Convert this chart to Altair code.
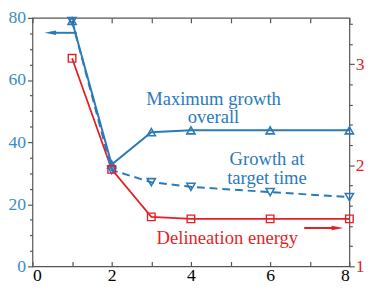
import altair as alt
import pandas as pd

# ---- data ----
x_vals = [1, 2, 3, 4, 6, 8]
max_growth = [79.0, 32.8, 43.2, 43.8, 43.8, 43.8]
target_growth = [79.0, 31.0, 27.1, 25.6, 23.9, 22.3]
delineation = [3.06, 1.96, 1.49, 1.47, 1.47, 1.47]

# tick values (major and minor)
x_ticks = [0, 0.5, 1, 1.5, 2, 2.5, 3, 3.5, 4, 4.5, 5, 5.5, 6, 6.5, 7, 7.5, 8]
yl_ticks = [0, 5, 10, 15, 20, 25, 30, 35, 40, 45, 50, 55, 60, 65, 70, 75, 80]
yr_ticks = [1, 1.2, 1.4, 1.6, 1.8, 2, 2.2, 2.4, 2.6, 2.8, 3, 3.2, 3.4]

blue_text = ["Maximum growth\noverall", "Growth at\ntarget time"]
blue_text_x = [4.57, 5.92]
blue_text_y = [52.1, 32.6]
red_text = ["Delineation energy"]
red_text_x = [4.92]
red_text_y = [1.224]

blue_arrow = {"x": [0.45], "x2": [1.12], "y": [75.2]}
red_arrow = {"x": [6.86], "x2": [7.70], "y": [1.38]}

BLUE = "#2a7ab9"
LBLUE = "#3a8cc6"
RED = "#e41f26"
AX = "#555555"
FONT = "Liberation Serif"
W, H = 324, 254

XDOM = [0, 8]
YL = [0, 80]
YR = [1, 3.46]

df = pd.DataFrame({"x": x_vals, "max": max_growth, "target": target_growth, "del": delineation})
bt = pd.DataFrame({"t": blue_text, "x": blue_text_x, "y": blue_text_y})
rt = pd.DataFrame({"t": red_text, "x": red_text_x, "y": red_text_y})
ba = pd.DataFrame(blue_arrow)
ra = pd.DataFrame(red_arrow)

MAJ, MIN = 5, 3
X_MAJ = "datum.value % 2 == 0"
YL_MAJ = "datum.value % 20 == 0"
YR_MAJ = "abs(datum.value - round(datum.value)) < 0.01"


def xenc(axis, field="x"):
    return alt.X(f"{field}:Q", scale=alt.Scale(domain=XDOM, nice=False, zero=False), axis=axis, title=None)


def yenc(field, dom, axis):
    return alt.Y(f"{field}:Q", scale=alt.Scale(domain=dom, nice=False, zero=False), axis=axis, title=None)


ax_x = alt.Axis(
    orient="bottom", values=x_ticks, format="d", domain=False, labelPadding=0, labelOverlap=False,
    labelColor="black", labelExpr=f"{X_MAJ} ? datum.label : ''",
    ticks=False, tickSize=0, zindex=1,
    grid=True, gridColor=AX, gridWidth=1.2, gridOpacity=1, gridDash=[5, H - 10, 5, 2000],
)
ax_yl = alt.Axis(
    orient="left", values=yl_ticks, format="d", domain=False, labelPadding=2, labelOverlap=False,
    labelColor=LBLUE, labelExpr=f"{YL_MAJ} ? datum.label : ''",
    ticks=True, tickSize={"condition": {"test": YL_MAJ, "value": MAJ}, "value": MIN},
    tickColor=AX, tickWidth=1.2, grid=False,
)
ax_yr = alt.Axis(
    orient="right", values=yr_ticks, format=".0f", domain=False, labelPadding=1, labelOverlap=False,
    labelColor=RED, labelExpr=f"{YR_MAJ} ? datum.label : ''",
    ticks=True, tickSize={"condition": {"test": YR_MAJ, "value": MAJ}, "value": MIN},
    tickColor=AX, tickWidth=1.2, grid=False,
)

l1 = alt.Chart(df).mark_line(color=BLUE, strokeWidth=2).encode(
    x=xenc(ax_x), y=yenc("max", YL, ax_yl))
l2 = alt.Chart(df).mark_point(shape="triangle-up", filled=False, color=BLUE, size=70, strokeWidth=1.6, opacity=1).encode(
    x=xenc(None), y=yenc("max", YL, None))
l3 = alt.Chart(df).mark_line(color=BLUE, strokeWidth=2, strokeDash=[8, 5]).encode(
    x=xenc(None), y=yenc("target", YL, None))
l4 = alt.Chart(df).mark_point(shape="triangle-down", filled=False, color=BLUE, size=70, strokeWidth=1.6, opacity=1).encode(
    x=xenc(None), y=yenc("target", YL, None))
l5 = alt.Chart(df).mark_line(color=RED, strokeWidth=1.8).encode(
    x=xenc(None), y=yenc("del", YR, ax_yr))
l6 = alt.Chart(df).mark_point(shape="square", filled=False, color=RED, size=60, strokeWidth=1.4, opacity=1).encode(
    x=xenc(None), y=yenc("del", YR, None))

l7 = alt.Chart(ra).mark_rule(color=RED, strokeWidth=2).encode(
    x=xenc(None), x2="x2:Q", y=yenc("y", YR, None))
l8 = alt.Chart(ra).mark_point(shape="M-1,-0.38L1,0L-1,0.38Z", filled=True, color=RED, size=144, opacity=1).encode(
    x=xenc(None, "x2"), y=yenc("y", YR, None))
l9 = alt.Chart(ba).mark_rule(color=BLUE, strokeWidth=2).encode(
    x=xenc(None), x2="x2:Q", y=yenc("y", YL, None))
l10 = alt.Chart(ba).mark_point(shape="M1,-0.38L-1,0L1,0.38Z", filled=True, color=BLUE, size=144, opacity=1).encode(
    x=xenc(None), y=yenc("y", YL, None))

t1 = alt.Chart(bt).mark_text(font=FONT, fontSize=19, color=BLUE, align="center", baseline="alphabetic",
                             lineBreak="\n", lineHeight=19).encode(
    x=xenc(None), y=yenc("y", YL, None), text="t:N")
t2 = alt.Chart(rt).mark_text(font=FONT, fontSize=19, color=RED, align="center", baseline="alphabetic").encode(
    x=xenc(None), y=yenc("y", YR, None), text="t:N")

chart = alt.layer(l1, l5, l3, l2, l4, l6, l7, l8, l9, l10, t1, t2).resolve_scale(
    y="independent").resolve_axis(x="independent", y="independent").properties(
    width=W, height=H, autosize=alt.AutoSizeParams(type="none"),
    padding={"left": 25, "top": 7, "right": 17, "bottom": 18}
).configure_axis(
    labelFont=FONT, labelFontSize=18
).configure_view(stroke=AX, strokeWidth=1.2)

chart.save("out.html", embed_options={"renderer": "svg", "actions": False})
